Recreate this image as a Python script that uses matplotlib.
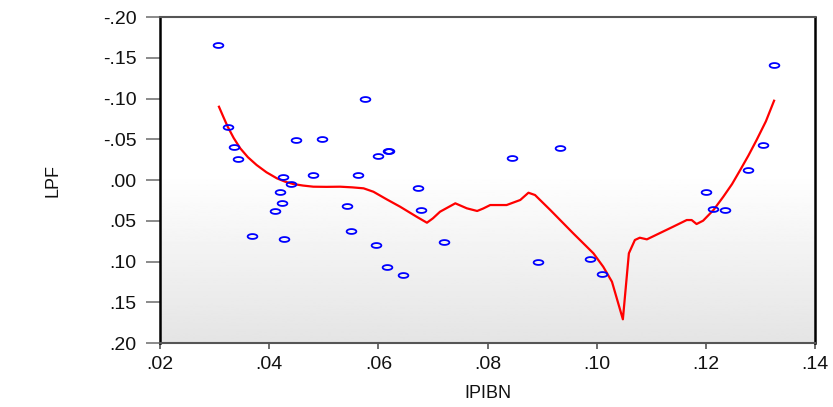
import numpy as np
import matplotlib
matplotlib.use("Agg")
import matplotlib.pyplot as plt
from matplotlib.path import Path

plt.rcParams["font.family"] = ["Liberation Sans", "DejaVu Sans"]

# scatter data (IPIBN, LPF)
ipibn = [0.0307, 0.0576, 0.0324, 0.0336, 0.0343, 0.0450, 0.0497, 0.0600,
         0.0618, 0.0620, 0.0426, 0.0480, 0.0562, 0.0440, 0.0420, 0.0673,
         0.0423, 0.0411, 0.0543, 0.0678, 0.0369, 0.0428, 0.0550, 0.0595,
         0.0720, 0.0615, 0.0645, 0.0933, 0.0844, 0.0893, 0.0987, 0.1010,
         0.1324, 0.1305, 0.1278, 0.1200, 0.1214, 0.1236]
lpf = [-0.1656, -0.0990, -0.0654, -0.0401, -0.0258, -0.0487, -0.0503, -0.0294,
       -0.0355, -0.0358, -0.0040, -0.0061, -0.0058, 0.0045, 0.0144, 0.0102,
       0.0286, 0.0377, 0.0319, 0.0368, 0.0687, 0.0720, 0.0630, 0.0794,
       0.0757, 0.1064, 0.1169, -0.0389, -0.0270, 0.1010, 0.0966, 0.1153,
       -0.1415, -0.0426, -0.0123, 0.0144, 0.0360, 0.0372]

# kernel fit curve
fit_x = [0.0308, 0.0316, 0.0324, 0.0335, 0.0347, 0.0361, 0.0377, 0.0395,
         0.0414, 0.0429, 0.0444, 0.0462, 0.0481, 0.0505, 0.0530, 0.0552,
         0.0573, 0.0591, 0.0615, 0.0640, 0.0670, 0.0689, 0.0700, 0.0713,
         0.0741, 0.0762, 0.0781, 0.0792, 0.0805, 0.0835, 0.0860, 0.0875,
         0.0887, 0.0915, 0.0957, 0.0994, 0.1012, 0.1028, 0.1048, 0.1059,
         0.1070, 0.1079, 0.1092, 0.1140, 0.1165, 0.1174, 0.1183, 0.1195,
         0.1214, 0.1232, 0.1248, 0.1263, 0.1278, 0.1293, 0.1310, 0.1325]
fit_y = [-0.0899, -0.0775, -0.0654, -0.0515, -0.0389, -0.0280, -0.0184, -0.0095,
         -0.0021, 0.0020, 0.0049, 0.0068, 0.0082, 0.0084, 0.0082, 0.0090,
         0.0102, 0.0144, 0.0236, 0.0328, 0.0450, 0.0524, 0.0470, 0.0389,
         0.0286, 0.0347, 0.0380, 0.0350, 0.0307, 0.0307, 0.0245, 0.0156,
         0.0184, 0.0368, 0.0654, 0.0899, 0.1064, 0.1248, 0.1709, 0.0899,
         0.0736, 0.0708, 0.0728, 0.0573, 0.0491, 0.0491, 0.0540, 0.0499,
         0.0368, 0.0205, 0.0050, -0.0123, -0.0300, -0.0491, -0.0720, -0.0973]

xticks = [0.02, 0.04, 0.06, 0.08, 0.10, 0.12, 0.14]
xlabels = [".02", ".04", ".06", ".08", ".10", ".12", ".14"]
yticks = [-0.20, -0.15, -0.10, -0.05, 0.00, 0.05, 0.10, 0.15, 0.20]
ylabels = ["-.20", "-.15", "-.10", "-.05", ".00", ".05", ".10", ".15", ".20"]

fig = plt.figure(figsize=(8.33, 4.07), dpi=100)
ax = fig.add_axes([0.1921, 0.1572, 0.7863, 0.8010])

# background: white top half, grey gradient lower half
grad = np.ones((200, 1))
t = np.linspace(0, 1, 100)
grad[100:, 0] = 0.995 - 0.1 * t
ax.imshow(grad, cmap="gray", vmin=0, vmax=1, aspect="auto",
          extent=[0, 1, 0, 1], transform=ax.transAxes, zorder=0)

# ellipse-shaped hollow marker (image looks squashed vertically)
th = np.linspace(0, 2 * np.pi, 40)
ell = Path(np.column_stack([np.cos(th), 0.5 * np.sin(th)]), closed=True)

ax.plot(fit_x, fit_y, color="red", lw=1.6, zorder=2, solid_joinstyle="round")
ax.plot(ipibn, lpf, ls="none", marker=ell, ms=7, mfc="none", mec="blue",
        mew=1.3, zorder=3)

ax.set_xlim(0.02, 0.14)
ax.set_ylim(0.20, -0.20)
ax.set_xticks(xticks)
ax.set_xticklabels(xlabels)
ax.set_yticks(yticks)
ax.set_yticklabels(ylabels)

ax.tick_params(axis="y", direction="out", length=10, width=1.2, color="#777777",
               labelsize=14, pad=7, labelcolor="#111111")
ax.tick_params(axis="x", direction="out", length=4, width=1.2, color="#555555",
               labelsize=14, pad=5, labelcolor="#111111")

ax.spines["left"].set_color("black")
ax.spines["left"].set_linewidth(1.8)
ax.spines["right"].set_color("black")
ax.spines["right"].set_linewidth(1.8)
ax.spines["top"].set_color("#555555")
ax.spines["top"].set_linewidth(1.5)
ax.spines["bottom"].set_color("#555555")
ax.spines["bottom"].set_linewidth(1.5)

ax.set_xlabel("IPIBN", fontsize=13, labelpad=9, color="#111111")
ax.set_ylabel("LPF", fontsize=13, labelpad=30, color="#111111")

fig.savefig("out.png", dpi=100)
